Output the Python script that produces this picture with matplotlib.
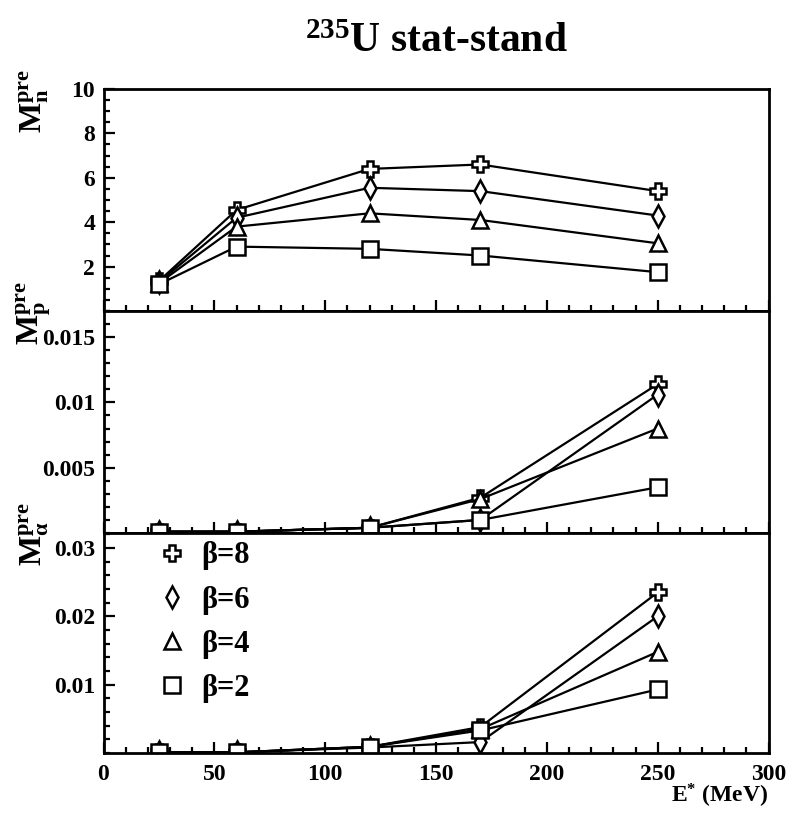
import matplotlib
matplotlib.use('Agg')
import matplotlib.pyplot as plt
from matplotlib.ticker import MultipleLocator
from matplotlib.lines import Line2D

# フォント設定 (serif bold)
plt.rcParams['font.family'] = 'Liberation Serif'
plt.rcParams['font.weight'] = 'bold'
plt.rcParams['mathtext.fontset'] = 'custom'
plt.rcParams['mathtext.rm'] = 'Liberation Serif:bold'
plt.rcParams['mathtext.it'] = 'Liberation Serif:bold'
plt.rcParams['mathtext.bf'] = 'Liberation Serif:bold'

# データ
energy = [25, 60, 120, 170, 250]
betas = ['8', '6', '4', '2']

mn_b8 = [1.35, 4.55, 6.4, 6.6, 5.4]
mn_b6 = [1.3, 4.2, 5.55, 5.4, 4.3]
mn_b4 = [1.25, 3.8, 4.4, 4.1, 3.05]
mn_b2 = [1.2, 2.9, 2.8, 2.5, 1.75]

mp_b8 = [0.0001, 0.0001, 0.0004, 0.0027, 0.0114]
mp_b6 = [0.0001, 0.0001, 0.0004, 0.0010, 0.0106]
mp_b4 = [0.0001, 0.0001, 0.0004, 0.0026, 0.0080]
mp_b2 = [0.0001, 0.0001, 0.0004, 0.0010, 0.0035]

ma_b8 = [0.0001, 0.0001, 0.0009, 0.0038, 0.0235]
ma_b6 = [0.0001, 0.0001, 0.0008, 0.0016, 0.0200]
ma_b4 = [0.0001, 0.0001, 0.0009, 0.0035, 0.0148]
ma_b2 = [0.0001, 0.0001, 0.0009, 0.0033, 0.0093]

# マーカー (β=8, 6, 4, 2)
markers = ['P', 'd', '^', 's']
msizes = [12, 11, 12, 11]

W, H = 790, 814
fig = plt.figure(figsize=(W / 100, H / 100), dpi=100)

def px_axes(top, bottom):
    left, right = 103.5, 768.5
    return fig.add_axes([left / W, 1 - bottom / H, (right - left) / W, (bottom - top) / H])

ax_n = px_axes(89, 311)
ax_p = px_axes(311, 533)
ax_a = px_axes(533, 753)

panels = [
    (ax_n, [mn_b8, mn_b6, mn_b4, mn_b2], (0, 10), [2, 4, 6, 8, 10], ['2', '4', '6', '8', '10'], 0.5),
    (ax_p, [mp_b8, mp_b6, mp_b4, mp_b2], (0, 0.017), [0.005, 0.01, 0.015], ['0.005', '0.01', '0.015'], 0.001),
    (ax_a, [ma_b8, ma_b6, ma_b4, ma_b2], (0, 0.0322), [0.01, 0.02, 0.03], ['0.01', '0.02', '0.03'], 0.002),
]

for ax, series, ylim, yt, ytl, yminor in panels:
    for vals, m, ms in zip(series, markers, msizes):
        ax.plot(energy, vals, color='black', lw=1.6, marker=m, ms=ms,
                mfc='white', mec='black', mew=1.8)
    ax.set_xlim(0, 300)
    ax.set_ylim(*ylim)
    ax.set_yticks(yt)
    ax.set_yticklabels(ytl)
    ax.yaxis.set_minor_locator(MultipleLocator(yminor))
    ax.xaxis.set_major_locator(MultipleLocator(50))
    ax.xaxis.set_minor_locator(MultipleLocator(10))
    ax.tick_params(which='both', direction='in', top=False, right=False, width=1.6, labelsize=17)
    ax.tick_params(which='major', length=8, pad=6)
    ax.tick_params(which='minor', length=4)
    for s in ax.spines.values():
        s.set_linewidth(2)
    if ax is not ax_a:
        ax.set_xticklabels([])

ax_a.tick_params(axis='x', pad=8)

# 縦軸ラベル (下端の位置)
ylabels = [
    (r'$\mathrm{M}_{\mathrm{n}}^{\mathrm{pre}}$', 133),
    (r'$\mathrm{M}_{\mathrm{p}}^{\mathrm{pre}}$', 345),
    (r'$\mathrm{M}_{\alpha}^{\mathrm{pre}}$', 566),
]
for text, bottom in ylabels:
    fig.text(34 / W, 1 - bottom / H, text, rotation=90, ha='center', va='bottom', fontsize=23)

# 横軸ラベルとタイトル
fig.text(768 / W, 1 - 803 / H, r'E$^{*}$ (MeV)', ha='right', va='baseline', fontsize=17)
fig.text(436 / W, 1 - 52 / H, r'$^{235}$U stat-stand', ha='center', va='baseline', fontsize=30)

# 凡例
handles = [Line2D([], [], ls='none', marker=m, ms=ms, mfc='white', mec='black', mew=1.8)
           for m, ms in zip(markers, msizes)]
labels = ['β=' + b for b in betas]
ax_a.legend(handles, labels, loc='upper left', bbox_to_anchor=(0.082, 0.962), frameon=False,
            fontsize=22, borderpad=0, borderaxespad=0, handletextpad=0.5,
            labelspacing=0.5, handlelength=0.9)

fig.savefig('out.png', dpi=100)
